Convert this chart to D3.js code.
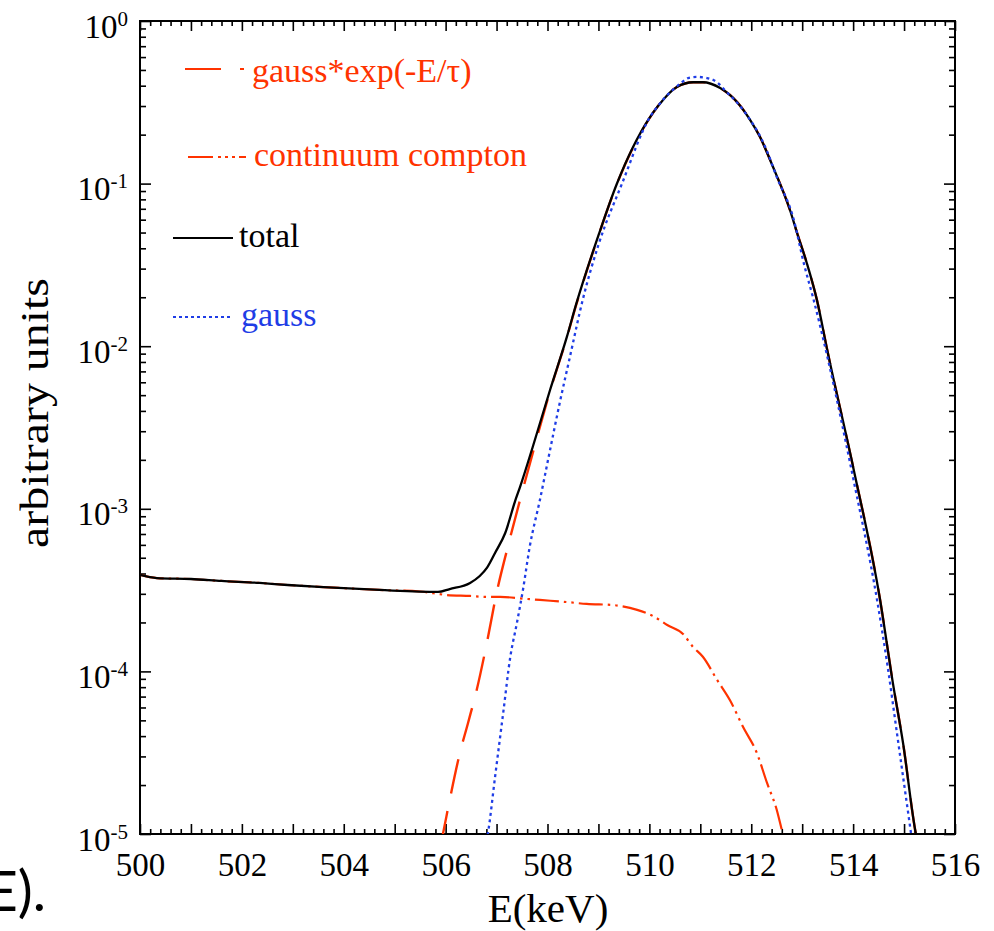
<!DOCTYPE html>
<html>
<head>
<meta charset="utf-8">
<script src="https://cdn.jsdelivr.net/npm/d3@7"></script>
<style>
  html, body { margin: 0; padding: 0; background: #fff; }
  svg { display: block; }
  text { font-family: "Liberation Serif", "Times New Roman", serif; }
</style>
</head>
<body>
<svg id="chart" width="994" height="931"></svg>
<script>
// ---------------- data ----------------
const xTickValues = [500, 501, 502, 503, 504, 505, 506, 507, 508, 509, 510, 511, 512, 513, 514, 515, 516];
const xTickLabels = ["500", "", "502", "", "504", "", "506", "", "508", "", "510", "", "512", "", "514", "", "516"];
const yTickValues = [1e-5, 1e-4, 1e-3, 1e-2, 1e-1, 1];
const yTickExponents = ["-5", "-4", "-3", "-2", "-1", "0"];

const legendLabels = ["gauss*exp(-E/\u03c4)", "continuum compton", "total", "gauss"];

const totalE = [500.0, 500.33, 501.0, 501.6, 502.35, 502.9, 503.6, 504.7, 505.85, 506.08, 506.48, 506.67, 506.81, 506.97, 507.17, 507.37, 507.46, 507.71, 508.05, 508.38, 508.56, 509.0, 509.36, 510.0, 510.17, 510.54, 510.86, 511.05, 511.39, 511.72, 511.98, 512.17, 512.43, 512.76, 512.9, 513.09, 513.29, 513.5, 514.0, 514.53, 514.78, 514.98, 515.23, 515.3];
const totalV = [3.92e-4, 3.75e-4, 3.70e-4, 3.60e-4, 3.50e-4, 3.40e-4, 3.30e-4, 3.17e-4, 3.08e-4, 3.21e-4, 3.50e-4, 3.86e-4, 4.33e-4, 5.35e-4, 7.1e-4, 1.13e-3, 1.36e-3, 2.4e-3, 5.38e-3, 1.14e-2, 1.8e-2, 4.8e-2, 9.95e-2, 0.253, 0.30, 0.393, 0.42, 0.42, 0.387, 0.318, 0.246, 0.194, 0.126, 0.0688, 0.0497, 0.0325, 0.0192, 9.2e-3, 1.81e-3, 2.75e-4, 8.5e-5, 3.63e-5, 1.01e-5, 8e-6];

const contE = [500.0, 500.33, 501.0, 501.6, 502.35, 502.9, 503.6, 504.7, 505.5, 506.02, 506.48, 506.81, 507.07, 507.6, 507.85, 508.38, 508.77, 509.28, 509.76, 510.07, 510.35, 510.66, 510.86, 511.05, 511.33, 511.58, 511.84, 512.11, 512.31, 512.5, 512.6, 512.68];
const contV = [3.92e-4, 3.75e-4, 3.70e-4, 3.60e-4, 3.50e-4, 3.40e-4, 3.30e-4, 3.17e-4, 3.10e-4, 2.95e-4, 2.91e-4, 2.87e-4, 2.87e-4, 2.79e-4, 2.75e-4, 2.67e-4, 2.60e-4, 2.56e-4, 2.39e-4, 2.19e-4, 1.93e-4, 1.70e-4, 1.41e-4, 1.23e-4, 8.86e-5, 6.67e-5, 4.55e-5, 3.15e-5, 2.06e-5, 1.41e-5, 1.06e-5, 8.5e-6];

const gexpE = [505.9, 505.95, 506.08, 506.28, 506.44, 506.61, 506.81, 507.0, 507.22, 507.46, 507.71, 508.05, 508.38, 508.56, 509.0, 509.36, 510.0, 510.17, 510.54, 510.86, 511.05, 511.39, 511.72, 511.98, 512.17, 512.43, 512.76, 512.9, 513.09, 513.29, 513.5, 514.0, 514.53, 514.78, 514.98, 515.23, 515.3];
const gexpV = [8.5e-6, 1.01e-5, 1.62e-5, 3.15e-5, 4.82e-5, 7.69e-5, 1.5e-4, 3.03e-4, 5.82e-4, 1.13e-3, 2.2e-3, 5.3e-3, 1.13e-2, 1.78e-2, 4.78e-2, 9.9e-2, 0.252, 0.30, 0.393, 0.42, 0.42, 0.387, 0.318, 0.246, 0.194, 0.126, 0.0688, 0.0497, 0.0325, 0.0192, 9.2e-3, 1.81e-3, 2.75e-4, 8.5e-5, 3.63e-5, 1.01e-5, 8e-6];

const gaussE = [506.8, 506.83, 506.97, 507.13, 507.27, 507.4, 507.52, 507.65, 507.85, 508.05, 508.24, 508.44, 508.69, 509.0, 509.46, 510.0, 510.2, 510.64, 510.76, 510.94, 511.13, 511.33, 511.48, 511.84, 512.3, 512.5, 512.82, 513.05, 513.21, 513.5, 514.0, 514.47, 514.68, 514.86, 515.12, 515.17];
const gaussV = [9e-6, 1.01e-5, 2.24e-5, 5.55e-5, 1.23e-4, 1.99e-4, 3.2e-4, 5.82e-4, 1.13e-3, 2.30e-3, 4.48e-3, 8.59e-3, 1.92e-2, 4.2e-2, 9.95e-2, 0.253, 0.309, 0.42, 0.446, 0.453, 0.446, 0.42, 0.376, 0.284, 0.161, 0.11, 0.0623, 0.0307, 0.0201, 8.46e-3, 1.55e-3, 2.75e-4, 1.06e-4, 4.18e-5, 1.1e-5, 8.5e-6];

// ---------------- layout ----------------
const RED = "#ff3300", BLUE = "#1f3de6", BLACK = "#000";
const L = 140, R = 955, T = 21, B = 834;
const SERIF = '"Liberation Serif", "Times New Roman", serif';

const svg = d3.select("#chart");
const x = d3.scaleLinear().domain([500, 516]).range([L, R]);
const y = d3.scaleLog().domain([1e-5, 1]).range([B, T]);

svg.append("defs").append("clipPath").attr("id", "plotclip")
  .append("rect").attr("x", L).attr("y", T).attr("width", R - L).attr("height", B - T);

// ---------------- axes ----------------
const minorX = d3.range(500, 516.001, 0.2).filter(v => Math.abs(v - Math.round(v)) > 1e-6);
const minorY = [];
for (let e = -5; e < 0; e++) for (let k = 2; k <= 9; k++) minorY.push(k * Math.pow(10, e));

function styleAxis(g) {
  g.select(".domain").remove();
  g.selectAll(".tick line").attr("stroke", "#000").attr("stroke-width", 1.6);
}

// bottom
const gxB = svg.append("g").attr("transform", `translate(0,${B})`)
  .call(d3.axisBottom(x).tickValues(xTickValues).tickSize(-10).tickPadding(19)
    .tickFormat((d, i) => xTickLabels[i]));
styleAxis(gxB);
gxB.attr("font-family", SERIF);
gxB.selectAll(".tick text").attr("font-size", 33).attr("fill", "#000");
svg.append("g").attr("transform", `translate(0,${B})`)
  .call(d3.axisBottom(x).tickValues(minorX).tickSize(-5).tickFormat(""))
  .call(styleAxis);
// top
svg.append("g").attr("transform", `translate(0,${T})`)
  .call(d3.axisTop(x).tickValues(xTickValues).tickSize(-10).tickFormat(""))
  .call(styleAxis);
svg.append("g").attr("transform", `translate(0,${T})`)
  .call(d3.axisTop(x).tickValues(minorX).tickSize(-5).tickFormat(""))
  .call(styleAxis);
// left
const gyL = svg.append("g").attr("transform", `translate(${L},0)`)
  .call(d3.axisLeft(y).tickValues(yTickValues).tickSize(-11).tickPadding(12).tickFormat(() => ""));
styleAxis(gyL);
gyL.attr("font-family", SERIF);
gyL.selectAll(".tick text").each(function (d, i) {
  const t = d3.select(this);
  t.text(null).attr("x", -12).attr("dy", null).attr("y", 16)
    .attr("text-anchor", "end").attr("fill", "#000").attr("font-size", 33);
  t.append("tspan").text("10");
  t.append("tspan").attr("dy", -12).attr("font-size", 21).text(yTickExponents[i]);
});
svg.append("g").attr("transform", `translate(${L},0)`)
  .call(d3.axisLeft(y).tickValues(minorY).tickSize(-6).tickFormat(""))
  .call(styleAxis);
// right
svg.append("g").attr("transform", `translate(${R},0)`)
  .call(d3.axisRight(y).tickValues(yTickValues).tickSize(-11).tickFormat(""))
  .call(styleAxis);
svg.append("g").attr("transform", `translate(${R},0)`)
  .call(d3.axisRight(y).tickValues(minorY).tickSize(-6).tickFormat(""))
  .call(styleAxis);

// frame
svg.append("rect").attr("x", L).attr("y", T).attr("width", R - L).attr("height", B - T)
  .attr("fill", "none").attr("stroke", "#000").attr("stroke-width", 2);

// ---------------- curves ----------------
const line = d3.line().curve(d3.curveMonotoneX).x(d => x(d[0])).y(d => y(d[1]));
const plot = svg.append("g").attr("clip-path", "url(#plotclip)");
const zip = (a, b) => a.map((v, i) => [v, b[i]]);

const series = [
  { E: contE,  V: contV,  color: RED,   dash: "24,5,2.5,5,2.5,5", w: 2.2 },
  { E: gexpE,  V: gexpV,  color: RED,   dash: "35,18", w: 2.4 },
  { E: totalE, V: totalV, color: BLACK, dash: null, w: 2.3 },
  { E: gaussE, V: gaussV, color: BLUE,  dash: "3,3.5", w: 2.3 }
];
series.forEach(s => {
  plot.append("path").datum(zip(s.E, s.V))
    .attr("d", line).attr("fill", "none")
    .attr("stroke", s.color).attr("stroke-width", s.w)
    .attr("stroke-dasharray", s.dash);
});

// ---------------- legend ----------------
const legend = [
  { label: legendLabels[0], color: RED,   dash: "36,19", x1: 185, x2: 244, ly: 69,  tx: 252, ty: 82 },
  { label: legendLabels[1], color: RED,   dash: "25,5,3,4,3,4,3,4", x1: 188, x2: 246, ly: 157, tx: 254, ty: 166 },
  { label: legendLabels[2], color: BLACK, dash: null,    x1: 173, x2: 233, ly: 238, tx: 239, ty: 247 },
  { label: legendLabels[3], color: BLUE,  dash: "3,3",   x1: 173, x2: 233, ly: 317, tx: 241, ty: 326 }
];
const lg = svg.append("g");
legend.forEach(d => {
  lg.append("line").attr("x1", d.x1).attr("x2", d.x2).attr("y1", d.ly).attr("y2", d.ly)
    .attr("stroke", d.color).attr("stroke-width", 2).attr("stroke-dasharray", d.dash);
  lg.append("text").attr("x", d.tx).attr("y", d.ty).attr("fill", d.color)
    .attr("font-size", 34).text(d.label);
});

// ---------------- axis titles ----------------
svg.append("text").attr("x", 548).attr("y", 922).attr("text-anchor", "middle")
  .attr("font-size", 41).attr("fill", "#000").text("E(keV)");
svg.append("text").attr("transform", "translate(48,413) rotate(-90)")
  .attr("text-anchor", "middle").attr("font-size", 40).attr("fill", "#000")
  .attr("textLength", 270).attr("lengthAdjust", "spacingAndGlyphs")
  .text("arbitrary units");

// cropped fragment of surrounding text at bottom-left
svg.append("text").attr("x", 46).attr("y", 911).attr("text-anchor", "end")
  .attr("font-size", 56).attr("fill", "#000")
  .style("font-family", 'Lato, "Open Sans", sans-serif')
  .text("E).");
</script>
</body>
</html>
